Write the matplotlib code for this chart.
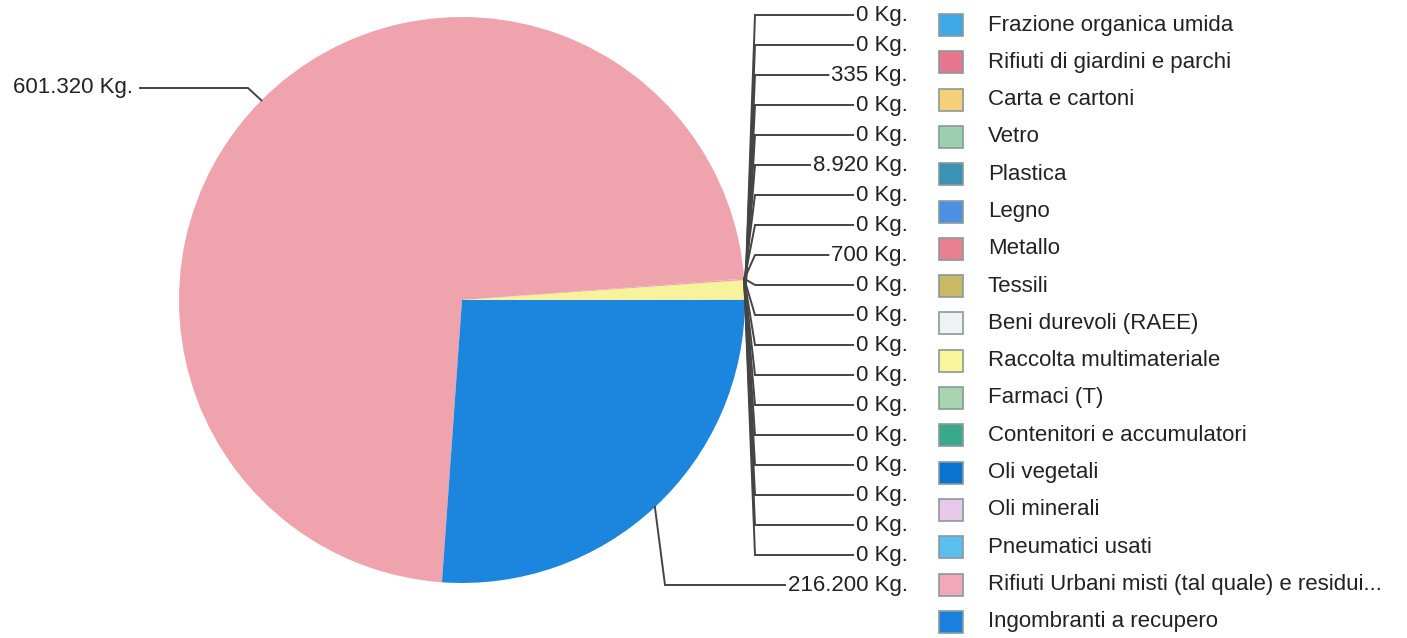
import matplotlib
matplotlib.use('Agg')
from matplotlib import pyplot as plt
from matplotlib.patches import Rectangle
import numpy as np

plt.rcParams['font.family'] = ['Liberation Sans', 'DejaVu Sans']

# Slice values (Kg), in drawing order (counter-clockwise from 3 o'clock)
slice_values = [0, 0, 335, 0, 0, 8920, 0, 0, 700, 0,
                0, 0, 0, 0, 0, 0, 0, 0, 0, 601320, 216200]
slice_colors = ['#3fa9e8', '#e8768f', '#f5d07a', '#9ccfb0', '#3a93b3',
                '#f8f39a', '#4d8fe0', '#c9b866', '#eea3ad', '#eef2f5',
                '#a8d4b0', '#3aa88a', '#0a72d0', '#e8c8e8', '#5bbfee',
                '#f2a8b8', '#1a80e0', '#3fa9e8', '#e8768f', '#eea3ad',
                '#1c85dd']
slice_labels = ['0 Kg.', '0 Kg.', '335 Kg.', '0 Kg.', '0 Kg.', '8.920 Kg.',
                '0 Kg.', '0 Kg.', '700 Kg.', '0 Kg.', '0 Kg.', '0 Kg.',
                '0 Kg.', '0 Kg.', '0 Kg.', '0 Kg.', '0 Kg.', '0 Kg.',
                '0 Kg.', '601.320 Kg.', '216.200 Kg.']

# Legend entries
legend_names = ['Frazione organica umida', 'Rifiuti di giardini e parchi',
                'Carta e cartoni', 'Vetro', 'Plastica', 'Legno', 'Metallo',
                'Tessili', 'Beni durevoli (RAEE)', 'Raccolta multimateriale',
                'Farmaci (T)', 'Contenitori e accumulatori', 'Oli vegetali',
                'Oli minerali', 'Pneumatici usati',
                'Rifiuti Urbani misti (tal quale) e residui...',
                'Ingombranti a recupero']
legend_colors = ['#3fa9e8', '#e8768f', '#f5d07a', '#9ccfb0', '#3a93b3',
                 '#4d8fe0', '#e8808f', '#c9b866', '#eef2f5', '#f8f59a',
                 '#a8d4b0', '#3aa88a', '#0a72d0', '#e8c8e8', '#5bbfee',
                 '#f2a8b8', '#1a80e0']

W, H = 1407, 638
fig = plt.figure(figsize=(W / 100, H / 100), dpi=100)
ax = fig.add_axes([0, 0, 1, 1])

def Y(py):
    return H - py

cx, cy, r = 462, 300, 283
wedges, _ = ax.pie(slice_values, colors=slice_colors, startangle=0,
                   counterclock=True, center=(cx, Y(cy)), radius=r,
                   wedgeprops=dict(linewidth=0))
ax.set_xlim(0, W)
ax.set_ylim(0, H)
ax.set_aspect('auto')
ax.axis('off')

txt_color = '#222222'
line_color = '#444444'
fs = 16

def edge_point(w):
    a = np.deg2rad((w.theta1 + w.theta2) / 2)
    return cx + r * np.cos(a), cy - r * np.sin(a)

renderer = fig.canvas.get_renderer()

# right-hand labels for the small slices and the blue slice
for i, w in enumerate(wedges):
    ex, ey = edge_point(w)
    if i < 19:
        ly = 15 + 30 * i
        jx = 755
    elif i == 20:
        ly = 585
        jx = 665
    else:
        continue
    t = ax.text(908, Y(ly), slice_labels[i], ha='right', va='center',
                fontsize=fs, color=txt_color)
    bb = t.get_window_extent(renderer)
    ax.plot([ex, jx, bb.x0 - 3], [Y(ey), Y(ly), Y(ly)],
            color=line_color, lw=1.4, solid_joinstyle='miter')

# left label for the big pink slice
ex, ey = edge_point(wedges[19])
ax.text(133, Y(88), slice_labels[19], ha='right', va='center',
        fontsize=fs, color=txt_color)
ax.plot([ex, 248, 140], [Y(ey), Y(88), Y(88)], color=line_color, lw=1.4)

# legend
for i, (name, col) in enumerate(zip(legend_names, legend_colors)):
    ly = 25 + 37.3 * i
    ax.add_patch(Rectangle((939, Y(ly) - 11), 24, 22, facecolor=col,
                           edgecolor='#8a9a9a', lw=1.2))
    ax.text(988, Y(ly), name, ha='left', va='center', fontsize=fs,
            color=txt_color)

fig.savefig('out.png', dpi=100, facecolor='white')
